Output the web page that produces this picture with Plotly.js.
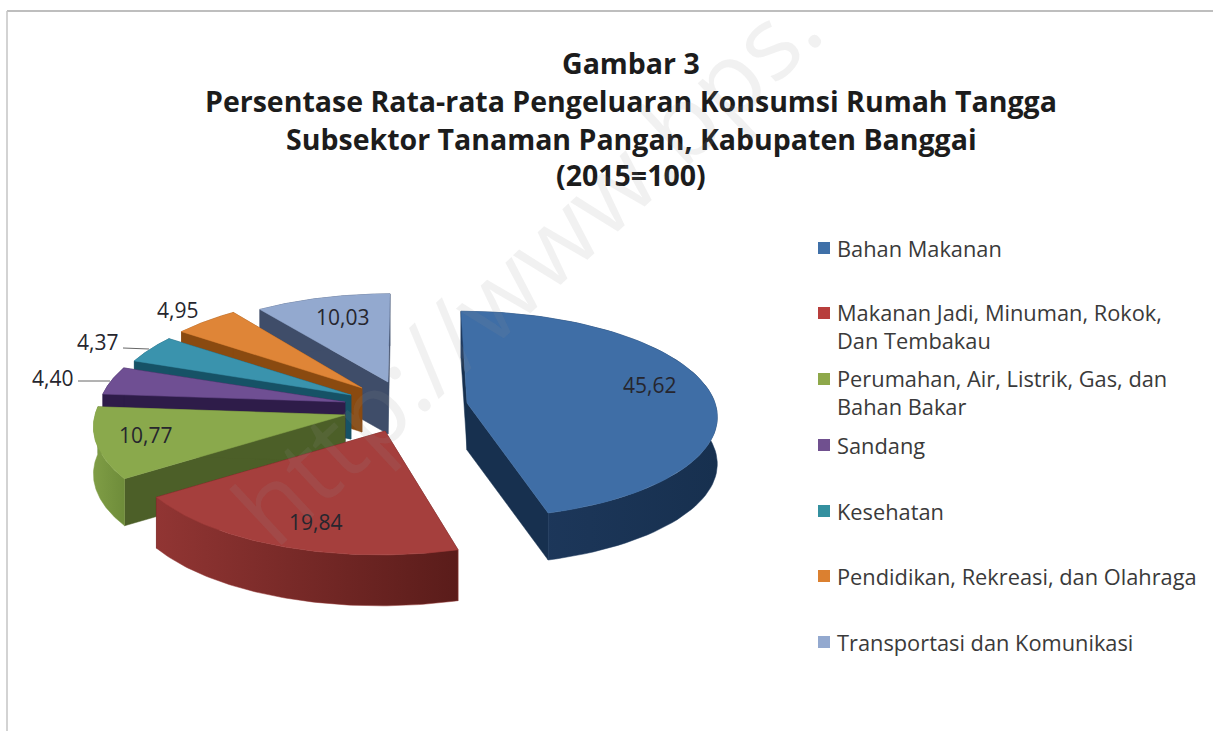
<!DOCTYPE html>
<html>
<head>
<meta charset="utf-8">
<script src="https://cdn.plot.ly/plotly-3.0.1.min.js"></script>
<style>html,body{margin:0;padding:0;background:#fff;overflow:hidden}#c{width:1213px;height:731px}</style>
</head>
<body>
<div id="c"></div>
<script>
// ---- data ----
var categories = ["Bahan Makanan","Makanan Jadi, Minuman, Rokok,<br>Dan Tembakau","Perumahan, Air, Listrik, Gas, dan<br>Bahan Bakar","Sandang","Kesehatan","Pendidikan, Rekreasi, dan Olahraga","Transportasi dan Komunikasi"];
var values = [45.62, 19.84, 10.77, 4.40, 4.37, 4.95, 10.03];
var valueLabels = ["45,62","19,84","10,77","4,40","4,37","4,95","10,03"];
var titleLines = ["Gambar 3","Persentase Rata-rata Pengeluaran Konsumsi Rumah Tangga","Subsektor Tanaman Pangan, Kabupaten Banggai","(2015=100)"];

// ---- styles / geometry of the tilted, exploded pie ----
var topColors  = ["#3f6ea6","#a53f3d","#8aa94c","#6f4f93","#3a93ad","#df8537","#93a9cf"];
var cutColors  = ["#17304f","#5a1c1a","#4c5f28","#2e1c49","#165266","#8a4a10","#3f4d69"];
var wallStart  = ["#17304f","#5a1c1a","#6e8c3a","#2e1c49","#165266","#8a4a10","#3f4d69"];
var wallEnd    = ["#1f3a5f","#913533","#7f9d45","#2e1c49","#165266","#8a4a10","#3f4d69"];
var legendColors = ["#3f70a8","#b83e3c","#8ea84a","#70508f","#34909f","#db8030","#93a9cf"];
var apexX = [467,385,345,345,351,362,388];
var apexY = [403,431,415,402,395,388,382];
var radiusX = [248,256,250,245,240,238,240];
var radiusY = [102,110,106,102,102,102,98];
var skew = [6,-5,0,0,0,0,-2];
var depth = [47,51,47,46,44,44,52];
var persp = 0.112;
var paintOrder = [6,5,4,3,2,1,0];
var labelX = [649,315,145,52,97,177,342], labelY = [385,522,435,378,342,310,317];
var legendY = [248,326,392,445,511,576,642];
var legendSwatchY = [248,313,379,445,511,576,642];

function project(i, deg){
  var t = deg*Math.PI/180, u = Math.sin(t), v = Math.cos(t), d = 1 + persp*v;
  return [apexX[i] + radiusX[i]*u/d - skew[i]*v, apexY[i] - radiusY[i]*v/d];
}
var total = values.reduce(function(a,b){return a+b;},0);
var startDeg = [], endDeg = [], acc = 0;
values.forEach(function(val,i){ startDeg[i] = acc/total*360; acc += val; endDeg[i] = acc/total*360; });

function arc(i){
  var pts = [], n = 80;
  for (var s=0; s<=n; s++) pts.push(project(i, startDeg[i] + (endDeg[i]-startDeg[i])*s/n));
  return pts;
}
function poly(pts, color, grad){
  var tr = {type:'scatter', mode:'lines', x:pts.map(function(p){return p[0];}), y:pts.map(function(p){return p[1];}),
    fill:'toself', fillcolor:color, line:{width:0.5,color:color}, hoverinfo:'skip', showlegend:false};
  if (grad) { tr.fillgradient = {type:'horizontal', colorscale:[[0,grad[0]],[1,grad[1]]]}; }
  return tr;
}
var traces = [];
paintOrder.forEach(function(i){
  var a = arc(i), h = depth[i], ap = [apexX[i], apexY[i]];
  var down = function(p){ return [p[0], p[1]+h]; };
  var first = a[0], last = a[a.length-1];
  traces.push(poly([ap,first,down(first),down(ap),ap], cutColors[i]));
  traces.push(poly([ap,last,down(last),down(ap),ap], cutColors[i]));
  var wall = a.concat(a.slice().reverse().map(down));
  wall.push(a[0]);
  traces.push(poly(wall, wallEnd[i], [wallEnd[i], wallStart[i]]));
  traces.push(poly([ap].concat(a).concat([ap]), topColors[i]));
});

var ann = [], shapes = [];
var titleY = [63,101,139,175];
titleLines.forEach(function(t,j){
  ann.push({x:631,y:titleY[j],xref:'x',yref:'y',text:'<b>'+t+'</b>',showarrow:false,xanchor:'center',yanchor:'middle',
    font:{family:'Open Sans',size:28.5,color:'#1c1c1c'}});
});
valueLabels.forEach(function(t,i){
  ann.push({x:labelX[i],y:labelY[i],xref:'x',yref:'y',text:t,showarrow:false,xanchor:'center',yanchor:'middle',
    font:{family:'Open Sans',size:21,color:'#26262e'}});
});
categories.forEach(function(t,i){
  ann.push({x:835,y:legendY[i],xref:'x',yref:'y',text:t,showarrow:false,xanchor:'left',yanchor:'middle',align:'left',
    font:{family:'Open Sans',size:21.8,color:'#3a3a3a'}});
  shapes.push({type:'rect',xref:'x',yref:'y',x0:818,x1:830,y0:legendSwatchY[i]-6,y1:legendSwatchY[i]+6,fillcolor:legendColors[i],line:{width:0}});
});
shapes.push({type:'line',xref:'x',yref:'y',x0:123,y0:348,x1:149,y1:349,line:{color:'#666',width:1}});
shapes.push({type:'line',xref:'x',yref:'y',x0:78,y0:381,x1:110,y1:381,line:{color:'#666',width:1}});
shapes.push({type:'line',xref:'x',yref:'y',x0:7,y0:11,x1:1213,y1:11,line:{color:'#a8a8a8',width:1.5}});
shapes.push({type:'line',xref:'x',yref:'y',x0:7,y0:11,x1:7,y1:731,line:{color:'#c4c4c4',width:1.5}});
ann.push({x:525,y:265,xref:'x',yref:'y',text:'http://www.bps.',showarrow:false,textangle:-43,
  font:{family:'Open Sans',size:101,color:'rgba(150,150,150,0.13)'}});

Plotly.newPlot('c', traces, {
  width:1213, height:731, margin:{l:0,r:0,t:0,b:0}, paper_bgcolor:'#fff', plot_bgcolor:'#fff', showlegend:false,
  xaxis:{range:[0,1213],visible:false,fixedrange:true},
  yaxis:{range:[731,0],visible:false,fixedrange:true},
  annotations:ann, shapes:shapes
}, {displayModeBar:false, staticPlot:true});
</script>
</body>
</html>
